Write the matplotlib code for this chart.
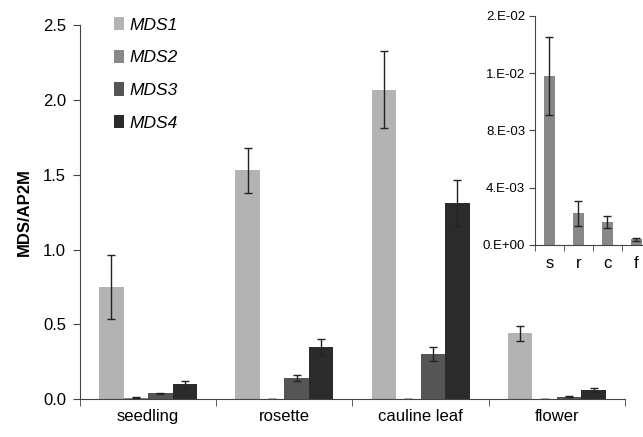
import matplotlib.pyplot as plt
import numpy as np

plt.rcParams['font.family'] = ['Liberation Sans', 'DejaVu Sans']

# main chart data
tissues = ['seedling', 'rosette', 'cauline leaf', 'flower']
genes = ['MDS1', 'MDS2', 'MDS3', 'MDS4']
mds1 = [0.75, 1.53, 2.068, 0.44]
mds1_err = [0.215, 0.15, 0.255, 0.05]
mds2 = [0.0118, 0.0022, 0.0016, 0.0004]
mds2_err = [0.0027, 0.0009, 0.0004, 0.0001]
mds3 = [0.04, 0.142, 0.304, 0.017]
mds3_err = [0.005, 0.018, 0.047, 0.003]
mds4 = [0.1, 0.349, 1.313, 0.062]
mds4_err = [0.025, 0.052, 0.153, 0.012]

# inset data (MDS2 only)
inset_labels = ['s', 'r', 'c', 'f']
inset_ticks = [0, 0.004, 0.008, 0.012, 0.016]
inset_ticklabels = ['0.E+00', '4.E-03', '8.E-03', '1.E-02', '2.E-02']

colors = ['#b3b3b3', '#888888', '#555555', '#2b2b2b']

fig = plt.figure(figsize=(6.43, 4.37), dpi=100)
ax = fig.add_axes([0.1244, 0.0863, 0.8476, 0.8565])

x = np.arange(len(tissues))
w = 0.18
vals = [mds1, mds2, mds3, mds4]
errs = [mds1_err, mds2_err, mds3_err, mds4_err]
for i in range(4):
    ax.bar(x + (i - 1.5) * w, vals[i], w, color=colors[i], label=genes[i],
           yerr=errs[i], capsize=3,
           error_kw=dict(ecolor='#222222', elinewidth=1, capthick=1))

ax.set_xlim(-0.5, 3.5)
ax.set_ylim(0, 2.5)
ax.set_yticks([0, 0.5, 1.0, 1.5, 2.0, 2.5])
ax.set_yticklabels(['0.0', '0.5', '1.0', '1.5', '2.0', '2.5'])
ax.set_xticks(x)
ax.set_xticklabels(tissues)
ax.set_xticks(np.arange(-0.5, 4, 1), minor=True)
ax.tick_params(axis='x', which='major', length=0, labelsize=12, pad=7)
ax.tick_params(axis='x', which='minor', length=5, color='#444444', direction='out')
ax.tick_params(axis='y', length=5, color='#444444', labelsize=12, pad=5)
for s in ['top', 'right']:
    ax.spines[s].set_visible(False)
for s in ['left', 'bottom']:
    ax.spines[s].set_color('#444444')
ax.set_ylabel('MDS/AP2M', fontsize=12, fontweight='bold', labelpad=8)

leg = ax.legend(loc='upper left', bbox_to_anchor=(0.033, 1.063), frameon=False,
                handlelength=0.62, handleheight=0.8, handletextpad=0.3,
                labelspacing=0.98, prop={'style': 'italic', 'size': 12.5})

# inset
axi = fig.add_axes([0.832, 0.4394, 0.1804, 0.524])
axi.patch.set_alpha(0)
xi = np.arange(len(inset_labels))
axi.bar(xi, mds2, 0.4, color=colors[1], yerr=mds2_err, capsize=3,
        error_kw=dict(ecolor='#222222', elinewidth=1, capthick=1))
axi.set_xlim(-0.5, 3.5)
axi.set_ylim(0, 0.016)
axi.set_yticks(inset_ticks)
axi.set_yticklabels(inset_ticklabels)
axi.set_xticks(xi)
axi.set_xticklabels(inset_labels)
axi.set_xticks(np.arange(-0.5, 4, 1), minor=True)
axi.tick_params(axis='x', which='major', length=0, labelsize=12, pad=8)
axi.tick_params(axis='x', which='minor', length=4, color='#444444')
axi.tick_params(axis='y', length=4, color='#444444', labelsize=9.5, pad=3)
for s in ['top', 'right']:
    axi.spines[s].set_visible(False)
for s in ['left', 'bottom']:
    axi.spines[s].set_color('#444444')

fig.savefig('out.png', dpi=100)
